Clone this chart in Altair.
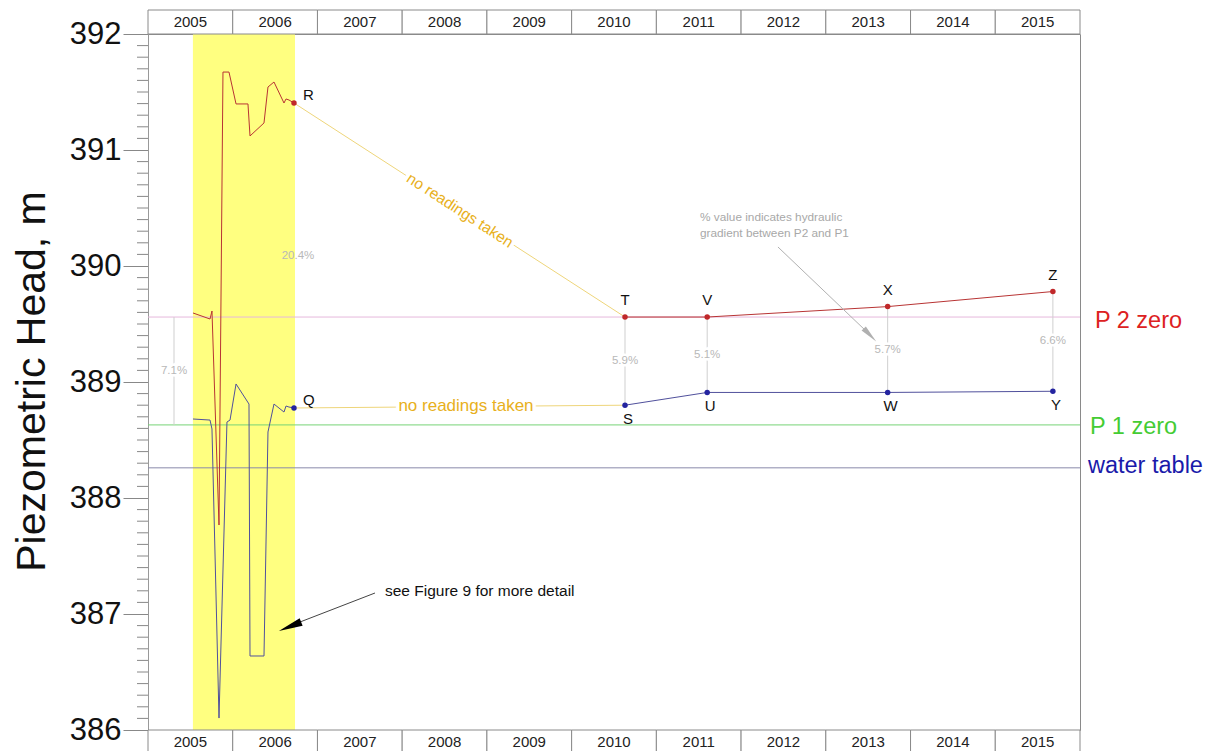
import altair as alt
import pandas as pd

FONT = "Liberation Sans"

# ---- data ---------------------------------------------------------------
years = list(range(2005, 2016))

# continuous logger record 2005-2006 (upper piezometer P2)
p2_x = [2005.531, 2005.732, 2005.755, 2005.838, 2005.885, 2005.956, 2006.039, 2006.180,
        2006.204, 2006.369, 2006.416, 2006.487, 2006.605, 2006.629, 2006.664, 2006.723]
p2_y = [389.595, 389.543, 389.612, 387.767, 391.672, 391.672, 391.397, 391.397,
        391.121, 391.233, 391.543, 391.586, 391.405, 391.440, 391.431, 391.405]

# continuous logger record 2005-2006 (lower piezometer P1)
p1_x = [2005.531, 2005.732, 2005.755, 2005.838, 2005.932, 2005.968, 2006.039, 2006.192,
        2006.204, 2006.369, 2006.416, 2006.487, 2006.605, 2006.629, 2006.664, 2006.723]
p1_y = [388.681, 388.672, 388.595, 386.103, 388.655, 388.672, 388.983, 388.810,
        386.638, 386.638, 388.569, 388.810, 388.741, 388.793, 388.784, 388.776]

# spot readings 2010-2015
spot_x = [2010.63, 2011.60, 2013.73, 2015.68]
spot_p2 = [389.56, 389.56, 389.65, 389.78]
spot_p1 = [388.80, 388.91, 388.91, 388.92]
spot_p2_names = ["T", "V", "X", "Z"]
spot_p1_names = ["S", "U", "W", "Y"]
spot_gradients = ["5.9%", "5.1%", "5.7%", "6.6%"]

last_p2_name, last_p1_name = "R", "Q"
last_gradient = "20.4%"

# reference levels
p2_zero = 389.56
p1_zero = 388.63
water_table = 388.26
zero_gradient = "7.1%"
zero_gradient_x = 2005.307

band_start, band_end = 2005.53, 2006.735

y_major = [386, 387, 388, 389, 390, 391, 392]
y_minor = [round(386 + i / 10, 1) for i in range(61) if i % 10 != 0]

# ---- scales and shared axis ----------------------------------------------
xs = alt.Scale(domain=[2005, 2016], nice=False, zero=False)
ys = alt.Scale(domain=[386, 392], nice=False, zero=False)

y_axis = alt.Axis(values=y_major, format="d", tickSize=25, tickColor="#888", tickWidth=1,
                  domainColor="#999", labelFont=FONT, labelFontSize=31, labelColor="#111",
                  labelPadding=2, grid=False, title="Piezometric Head, m", titleFont=FONT,
                  titleFontSize=41, titleFontWeight="normal", titleColor="#111", titleAngle=270,
                  titleX=-116, titleY=347, titleAlign="center", titleBaseline="middle")


def X(f):
    return alt.X(f, type="quantitative", scale=xs, axis=None)


def Y(f):
    return alt.Y(f, type="quantitative", scale=ys, axis=y_axis)


def X2(f):
    return alt.X2(f)


def Y2(f):
    return alt.Y2(f)


# ---- layers --------------------------------------------------------------
band = alt.Chart(pd.DataFrame({"a": [band_start], "b": [band_end], "lo": [386], "hi": [392]})).mark_rect(
    color="#ffff80").encode(x=X("a"), x2=X2("b"), y=Y("lo"), y2=Y2("hi"))

minor_ticks = alt.Chart(pd.DataFrame({"v": y_minor})).mark_rule(color="#888", strokeWidth=1).encode(
    y=Y("v"), x=alt.value(-11), x2=alt.value(0))

levels = pd.DataFrame({"v": [p2_zero, p1_zero, water_table],
                       "c": ["#e6b8dc", "#77d477", "#8a8aaa"]})
level_lines = alt.Chart(levels).mark_rule(strokeWidth=1).encode(
    y=Y("v"), color=alt.Color("c:N", scale=None))

# vertical links between paired readings
links = pd.DataFrame({"x": spot_x + [zero_gradient_x], "lo": spot_p1 + [p1_zero],
                      "hi": spot_p2 + [p2_zero],
                      "t": spot_gradients + [zero_gradient]})
links["mid"] = (links["lo"] + links["hi"]) / 2
link_lines = alt.Chart(links).mark_rule(color="#cfcfcf", strokeWidth=1).encode(
    x=X("x"), y=Y("lo"), y2=Y2("hi"))
grad_halo = alt.Chart(links).mark_text(font=FONT, fontSize=11.5, color="white", stroke="white",
                                       strokeWidth=5).encode(x=X("x"), y=Y("mid"), text="t:N")
grad_text = alt.Chart(links).mark_text(font=FONT, fontSize=11.5, color="#b8b8b8").encode(
    x=X("x"), y=Y("mid"), text="t:N")

last_grad = alt.Chart(pd.DataFrame({"x": [p2_x[-1]], "m": [(p2_y[-1] + p1_y[-1]) / 2],
                                    "t": [last_gradient]})).mark_text(
    font=FONT, fontSize=11.5, color="#b8b8b8", dx=4).encode(x=X("x"), y=Y("m"), text="t:N")

# gaps with no readings
gap_rows = []
for g, (x0, y0, x1, y1) in enumerate([(p2_x[-1], p2_y[-1], spot_x[0], spot_p2[0]),
                                      (p1_x[-1], p1_y[-1], spot_x[0], spot_p1[0])]):
    gap_rows += [{"g": g, "x": x0, "y": y0, "o": 0}, {"g": g, "x": x1, "y": y1, "o": 1}]
gap_lines = alt.Chart(pd.DataFrame(gap_rows)).mark_line(color="#eed57a", strokeWidth=1).encode(
    x=X("x"), y=Y("y"), detail="g:N", order="o:Q")

gap_text_upper = pd.DataFrame({"x": [2008.682], "y": [390.48], "t": ["no readings taken"]})
gap_text_lower = pd.DataFrame({"x": [2008.753], "y": [388.79], "t": ["no readings taken"]})
gap_labels = []
for df, ang, fs in [(gap_text_upper, 33, 15.5), (gap_text_lower, 0, 17)]:
    gap_labels.append(alt.Chart(df).mark_text(font=FONT, fontSize=fs, color="white", stroke="white",
                                              strokeWidth=7, angle=ang).encode(
        x=X("x"), y=Y("y"), text="t:N"))
    gap_labels.append(alt.Chart(df).mark_text(font=FONT, fontSize=fs, color="#e8b020", angle=ang).encode(
        x=X("x"), y=Y("y"), text="t:N"))


# piezometer traces
def trace(xc, yc, xs_spot, ys_spot):
    rows = [{"s": 0, "x": a, "y": b, "o": i} for i, (a, b) in enumerate(zip(xc, yc))]
    rows += [{"s": 1, "x": a, "y": b, "o": i} for i, (a, b) in enumerate(zip(xs_spot, ys_spot))]
    return pd.DataFrame(rows)


p2_line = alt.Chart(trace(p2_x, p2_y, spot_x, spot_p2)).mark_line(color="#b83434", strokeWidth=1).encode(
    x=X("x"), y=Y("y"), detail="s:N", order="o:Q")
p1_line = alt.Chart(trace(p1_x, p1_y, spot_x, spot_p1)).mark_line(color="#50509c", strokeWidth=1).encode(
    x=X("x"), y=Y("y"), detail="s:N", order="o:Q")

p2_pts = pd.DataFrame({"x": [p2_x[-1]] + spot_x, "y": [p2_y[-1]] + spot_p2,
                       "n": [last_p2_name] + spot_p2_names})
p1_pts = pd.DataFrame({"x": [p1_x[-1]] + spot_x, "y": [p1_y[-1]] + spot_p1,
                       "n": [last_p1_name] + spot_p1_names})
p2_dots = alt.Chart(p2_pts).mark_circle(color="#c0282a", size=30, opacity=1).encode(x=X("x"), y=Y("y"))
p1_dots = alt.Chart(p1_pts).mark_circle(color="#2424a0", size=30, opacity=1).encode(x=X("x"), y=Y("y"))

lab_style = dict(font=FONT, fontSize=15, color="#111")
p2_names_spot = alt.Chart(p2_pts.iloc[1:]).mark_text(dy=-17, **lab_style).encode(
    x=X("x"), y=Y("y"), text="n:N")
p1_names_spot = alt.Chart(p1_pts.iloc[1:]).mark_text(dy=14, dx=3, **lab_style).encode(
    x=X("x"), y=Y("y"), text="n:N")
last_names = alt.Chart(pd.concat([p2_pts.iloc[:1], p1_pts.iloc[:1]])).mark_text(
    dx=9, dy=-8, align="left", **lab_style).encode(x=X("x"), y=Y("y"), text="n:N")

# reference level names at the right edge
level_names = pd.DataFrame({"x": [2016.177, 2016.118, 2016.094], "v": [p2_zero, p1_zero, water_table],
                            "t": ["P 2 zero", "P 1 zero", "water table"],
                            "c": ["#dd2222", "#44cc33", "#1a1aaa"], "d": [4, 2, -2]})
level_text = []
for _, r in level_names.iterrows():
    level_text.append(alt.Chart(pd.DataFrame([r])).mark_text(
        font=FONT, fontSize=23.5, align="left", color=r["c"], dy=int(r["d"])).encode(
        x=X("x"), y=Y("v"), text="t:N"))

# annotations
note_lines = pd.DataFrame({"x": [2011.515, 2011.515], "y": [390.422, 390.284],
                           "t": ["% value indicates hydraulic", "gradient between P2 and P1"]})
note_text = alt.Chart(note_lines).mark_text(font=FONT, fontSize=11.8, color="#a8a8a8", align="left").encode(
    x=X("x"), y=Y("y"), text="t:N")
note_arrow = alt.Chart(pd.DataFrame({"x": [2012.435], "y": [390.164], "x2": [2013.474], "y2": [389.44]})
                       ).mark_rule(color="#b0b0b0", strokeWidth=1).encode(
    x=X("x"), y=Y("y"), x2=X2("x2"), y2=Y2("y2"))
head_path = "M0,-1L0.33,1L-0.33,1Z"
note_head = alt.Chart(pd.DataFrame({"x": [2013.521], "y": [389.405]})).mark_point(
    shape=head_path, filled=True, color="#b0b0b0", opacity=1, size=324, angle=136, strokeWidth=0).encode(
    x=X("x"), y=Y("y"))

fig_text = alt.Chart(pd.DataFrame({"x": [2007.797], "y": [387.198], "t": ["see Figure 9 for more detail"]})
                     ).mark_text(font=FONT, fontSize=15.5, color="#111", align="left").encode(
    x=X("x"), y=Y("y"), text="t:N")
fig_arrow = alt.Chart(pd.DataFrame({"x": [2007.679], "y": [387.181], "x2": [2006.794], "y2": [386.931]})
                      ).mark_rule(color="#444", strokeWidth=1).encode(
    x=X("x"), y=Y("y"), x2=X2("x2"), y2=Y2("y2"))
fig_head = alt.Chart(pd.DataFrame({"x": [2006.676], "y": [386.892]})).mark_point(
    shape=head_path, filled=True, color="#000", opacity=1, size=576, angle=248, strokeWidth=0).encode(
    x=X("x"), y=Y("y"))

# year header and footer strips
yr = pd.DataFrame({"a": years})
yr["b"] = yr["a"] + 1
yr["m"] = yr["a"] + 0.5
yr["t"] = yr["a"].astype(str)
strips = []
for top, bottom, ty in [(-24, 0, -12), (696, 730, 708)]:
    strips.append(alt.Chart(yr).mark_rect(fill="white", stroke="#8a8a8a", strokeWidth=1).encode(
        x=X("a"), x2=X2("b"), y=alt.value(top), y2=alt.value(bottom)))
    strips.append(alt.Chart(yr).mark_text(font=FONT, fontSize=15, color="#222").encode(
        x=X("m"), y=alt.value(ty), text="t:N"))

layers = ([band, minor_ticks, level_lines, link_lines, grad_halo, grad_text, last_grad, gap_lines]
          + gap_labels + [p2_line, p1_line, p2_dots, p1_dots, p2_names_spot, p1_names_spot, last_names]
          + level_text + [note_text, note_arrow, note_head, fig_arrow, fig_head, fig_text] + strips)

chart = alt.layer(*layers).properties(
    width=932, height=696,
    padding={"left": 148, "top": 34, "right": 135, "bottom": 21},
    autosize=alt.AutoSizeParams(type="none"),
    background="white",
).configure_view(stroke="#8a8a8a", strokeWidth=1)

chart.save("out.html", embed_options={"renderer": "svg", "actions": False})
